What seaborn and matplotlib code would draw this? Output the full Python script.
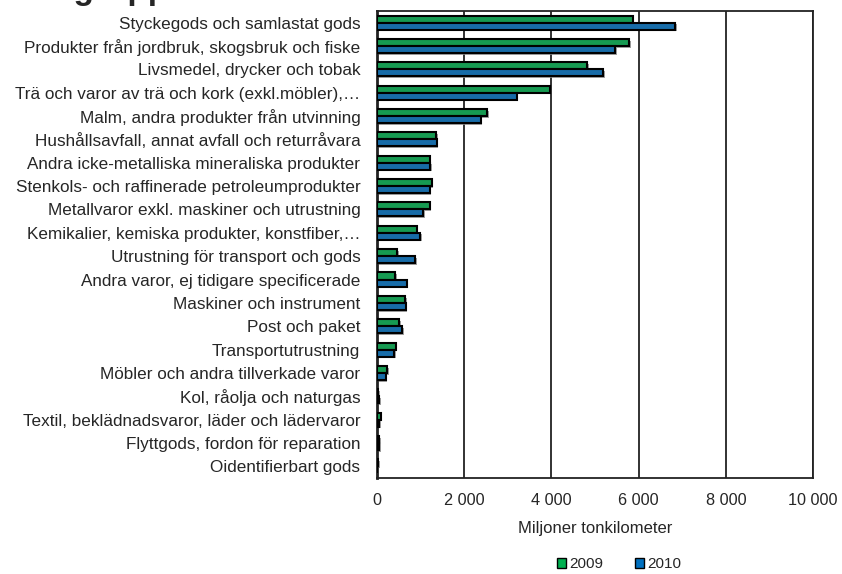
import numpy as np
import pandas as pd
import matplotlib.pyplot as plt
import matplotlib.patheffects as pe
import seaborn as sns

categories = [
    "Styckegods och samlastat gods",
    "Produkter från jordbruk, skogsbruk och fiske",
    "Livsmedel, drycker och tobak",
    "Trä och varor av trä och kork (exkl.möbler),…",
    "Malm, andra produkter från utvinning",
    "Hushållsavfall, annat avfall och returråvara",
    "Andra icke-metalliska mineraliska produkter",
    "Stenkols- och raffinerade petroleumprodukter",
    "Metallvaror exkl. maskiner och utrustning",
    "Kemikalier, kemiska produkter, konstfiber,…",
    "Utrustning för transport och gods",
    "Andra varor, ej tidigare specificerade",
    "Maskiner och instrument",
    "Post och paket",
    "Transportutrustning",
    "Möbler och andra tillverkade varor",
    "Kol, råolja och naturgas",
    "Textil, beklädnadsvaror, läder och lädervaror",
    "Flyttgods, fordon för reparation",
    "Oidentifierbart gods",
]
v2009 = [5865, 5787, 4817, 3961, 2530, 1361, 1208, 1254, 1208, 910,
         459, 420, 650, 505, 428, 237, 20, 85, 55, 20]
v2010 = [6842, 5459, 5191, 3204, 2378, 1369, 1216, 1208, 1063, 994,
         872, 680, 658, 581, 390, 199, 55, 55, 55, 12]
years = ["2009", "2010"]
colors = {"2009": "#00B050", "2010": "#0070C0"}

df = pd.DataFrame({
    "kategori": categories * 2,
    "varde": v2009 + v2010,
    "ar": ["2009"] * len(categories) + ["2010"] * len(categories),
})

sns.set_style("white")
plt.rcParams['font.family'] = ['Liberation Sans', 'DejaVu Sans']

fig = plt.figure(figsize=(8.42, 5.74), dpi=100)
ax = fig.add_axes([0.4477, 0.1672, 0.9656 - 0.4477, 0.981 - 0.1672])

sns.barplot(data=df, y="kategori", x="varde", hue="ar", hue_order=years,
            palette=colors, orient="h", width=0.6, edgecolor="black",
            linewidth=1.5, ax=ax, legend=False, zorder=3)

for p in ax.patches:
    p.set_path_effects([pe.SimplePatchShadow(offset=(1.2, -1.2), shadow_rgbFace="#888888", alpha=0.8),
                        pe.Normal()])

ax.set_xlim(0, 10000)
ax.set_xticks(np.arange(0, 10001, 2000))
ax.set_xticklabels([f"{v:,}".replace(",", " ") for v in range(0, 10001, 2000)], fontsize=11.7)
ax.tick_params(axis="x", pad=11, length=0)
ax.tick_params(axis="y", pad=12, length=0, labelsize=12.3)
ax.grid(axis="x", color="#222222", linewidth=1.3, zorder=0)
ax.set_axisbelow(True)
ax.set_xlabel("Miljoner tonkilometer", fontsize=12, labelpad=9)
ax.set_ylabel("")
for s in ax.spines.values():
    s.set_visible(True)
    s.set_color("#222222")
    s.set_linewidth(1.3)
ax.spines["left"].set_linewidth(2)

handles = [plt.Rectangle((0, 0), 1, 1, facecolor=colors[y], edgecolor="black", linewidth=1) for y in years]
fig.legend(handles, years, loc="center", bbox_to_anchor=(0.735, 0.017), ncol=2, frameon=False,
           fontsize=11, handlelength=0.6, handleheight=0.6, handletextpad=0.2, columnspacing=2.1,
           borderpad=0.1)

fig.text(0.002, 1.0 + 1 / 574, "Varugrupper", fontsize=24, fontweight="bold", va="baseline", ha="left")

fig.savefig("out.png", dpi=100)
